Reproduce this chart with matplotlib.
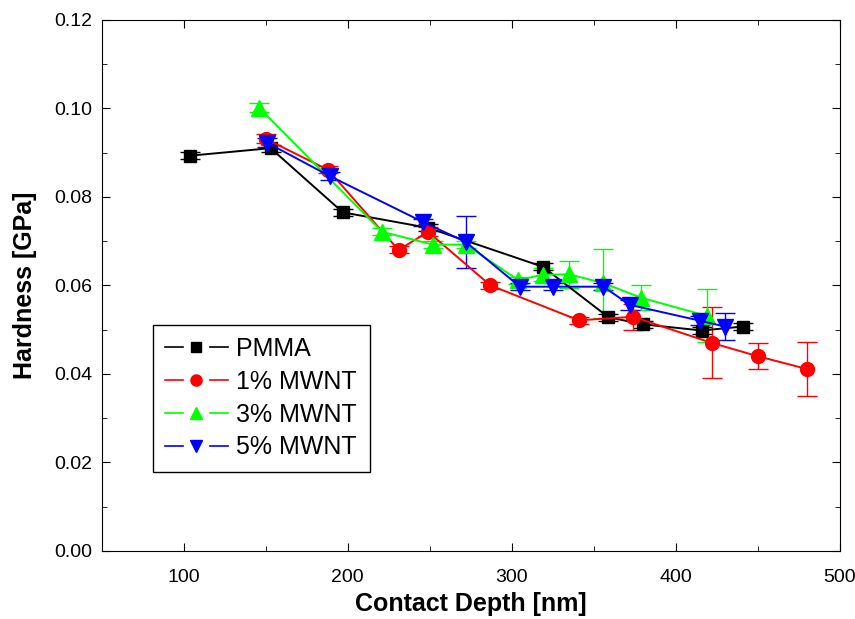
import matplotlib
matplotlib.use("Agg")
import matplotlib.pyplot as plt
from matplotlib.legend_handler import HandlerBase
from matplotlib.lines import Line2D
from matplotlib.ticker import FormatStrFormatter, MultipleLocator

plt.rcParams["font.family"] = ["Liberation Sans", "DejaVu Sans"]

# contact depth [nm], hardness [GPa], y error [GPa]
pmma_x = [104, 153, 197, 249, 319, 359, 380, 416, 441]
pmma_y = [0.0893, 0.0910, 0.0765, 0.0730, 0.0642, 0.0528, 0.0512, 0.0498, 0.0507]
pmma_err = [0.0008, 0.0008, 0.0008, 0.0008, 0.0008, 0.0008, 0.0008, 0.0008, 0.0008]

mw1_x = [150, 188, 231, 249, 287, 341, 374, 422, 450, 480]
mw1_y = [0.0931, 0.0861, 0.0680, 0.0721, 0.0600, 0.0521, 0.0529, 0.0470, 0.0440, 0.0411]
mw1_err = [0.0010, 0.0008, 0.0008, 0.0010, 0.0008, 0.0008, 0.0030, 0.0080, 0.0030, 0.0060]

mw3_x = [146, 221, 252, 272, 304, 319, 335, 356, 379, 419]
mw3_y = [0.1001, 0.0721, 0.0692, 0.0692, 0.0612, 0.0624, 0.0625, 0.0605, 0.0572, 0.0531]
mw3_err = [0.0010, 0.0008, 0.0008, 0.0008, 0.0008, 0.0015, 0.0030, 0.0078, 0.0028, 0.0060]

mw5_x = [151, 189, 246, 272, 305, 325, 356, 372, 415, 430]
mw5_y = [0.0922, 0.0847, 0.0743, 0.0698, 0.0597, 0.0597, 0.0597, 0.0556, 0.0520, 0.0507]
mw5_err = [0.0010, 0.0008, 0.0008, 0.0058, 0.0008, 0.0008, 0.0008, 0.0012, 0.0010, 0.0030]

labels = ["PMMA", "1% MWNT", "3% MWNT", "5% MWNT"]
series = [
    (pmma_x, pmma_y, pmma_err, "black", "s", 9, 7),
    (mw1_x, mw1_y, mw1_err, "#ff0000", "o", 10, 8),
    (mw3_x, mw3_y, mw3_err, "#00ff00", "^", 11.5, 9),
    (mw5_x, mw5_y, mw5_err, "#0000ff", "v", 11.5, 9),
]


class GapLineHandler(HandlerBase):
    # Origin style legend entry: line, gap, marker, gap, line
    def create_artists(self, legend, orig_handle, xdescent, ydescent,
                       width, height, fontsize, trans):
        y = height / 2 - ydescent
        x0 = -xdescent
        gap = width * 0.22
        kw = dict(color=orig_handle.get_color(), linewidth=1.2, transform=trans)
        left = Line2D([x0, x0 + width / 2 - gap], [y, y], **kw)
        right = Line2D([x0 + width / 2 + gap, x0 + width], [y, y], **kw)
        mark = Line2D([x0 + width / 2], [y], linestyle="none",
                      marker=orig_handle.get_marker(),
                      markersize=orig_handle.get_markersize(),
                      color=orig_handle.get_color(), transform=trans)
        return [left, right, mark]


fig = plt.figure(figsize=(8.55, 6.19), dpi=100)
ax = fig.add_axes([0.119, 0.110, 0.863, 0.858])

handles = []
for label, (x, y, err, color, marker, ms, lms) in zip(labels, series):
    ax.errorbar(x, y, yerr=err, color=color, marker=marker, markersize=ms,
                linewidth=1.4, elinewidth=1.0, capsize=7, capthick=1.0)
    handles.append(Line2D([], [], color=color, marker=marker, markersize=lms))

ax.set_xlim(50, 500)
ax.set_ylim(0, 0.12)
ax.xaxis.set_major_locator(MultipleLocator(100))
ax.xaxis.set_minor_locator(MultipleLocator(50))
ax.yaxis.set_major_locator(MultipleLocator(0.02))
ax.yaxis.set_minor_locator(MultipleLocator(0.01))
ax.yaxis.set_major_formatter(FormatStrFormatter("%.2f"))
ax.tick_params(which="both", direction="in", top=True, right=True, labelsize=14)
ax.tick_params(which="major", length=6)
ax.tick_params(which="minor", length=3.5)
ax.tick_params(axis="x", pad=13)
ax.tick_params(axis="y", pad=7)

ax.set_xlabel("Contact Depth [nm]", fontsize=18, fontweight="bold", va="center")
ax.set_ylabel("Hardness [GPa]", fontsize=18, fontweight="bold", va="center")
ax.xaxis.set_label_coords(0.5, -0.10)
ax.yaxis.set_label_coords(-0.104, 0.5)

leg = ax.legend(handles, labels, handler_map={Line2D: GapLineHandler()},
                loc="lower left", bbox_to_anchor=(0.069, 0.149),
                borderaxespad=0, fontsize=18, handlelength=2.5,
                fancybox=False, framealpha=1, edgecolor="black",
                borderpad=0.5, labelspacing=0.35, handletextpad=0.35)
leg.get_frame().set_linewidth(1.0)

fig.savefig("out.png", dpi=100)
